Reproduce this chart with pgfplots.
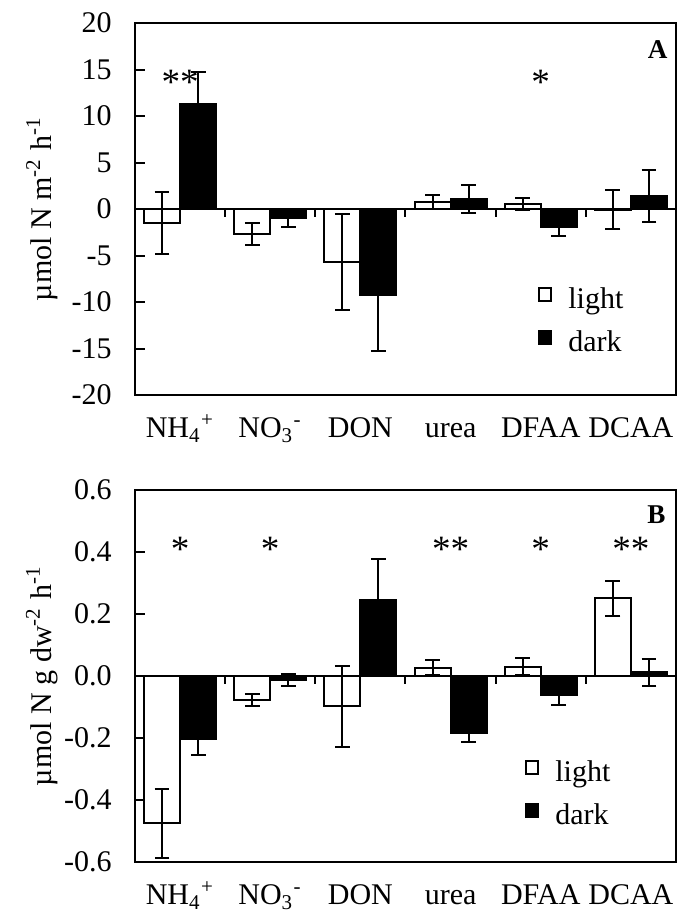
\documentclass[border=0pt]{standalone}
\usepackage{fontspec}
\setmainfont{Liberation Serif}
\usepackage{pgfplots}
\pgfplotsset{compat=1.18}
\tikzset{
  sigstar/.style={anchor=base, yshift=-6.5pt, font=\fontsize{13}{15}\selectfont},
  panellab/.style={anchor=north east, inner sep=0pt, font=\fontsize{9.5}{11}\selectfont\bfseries},
}
\pgfplotsset{
  lightleg/.style={legend image code/.code={\draw[black,fill=white,line width=0.7pt] (0pt,0pt) rectangle (4.5pt,4.5pt);}},
  darkleg/.style={legend image code/.code={\draw[black,fill=black,line width=0.7pt] (0pt,0pt) rectangle (4.5pt,4.5pt);}},
  common/.style={
    scale only axis, width=189.35pt, height=130.2pt,
    xmin=-0.5, xmax=5.5, xtick={0,1,2,3,4,5},
    xticklabels={NH\textsubscript{4}\textsuperscript{+}, NO\textsubscript{3}\textsuperscript{-}, DON, urea, DFAA, DCAA},
    major x tick style={draw=none},
    xticklabel style={anchor=base, yshift=-15pt},
    ytick pos=left,
    major tick length=3.5pt,
    yticklabel style={xshift=-4.5pt},
    axis line style={line width=0.9pt},
    tick style={line width=0.7pt, black},
    legend style={draw=none, fill=none, inner sep=0pt, nodes={inner sep=0pt}, row sep=5.7pt, column sep=5.6pt, legend cell align=left},
    ylabel style={at={(axis description cs:-0.172,0.5)}, anchor=center},
  },
  barbase/.style={ybar, bar width=0.4, bar shift=0, draw=black, line width=0.7pt,
    error bars/y dir=both, error bars/y explicit,
    error bars/error mark=-,
    error bars/error bar style={line width=0.7pt, black},
    error bars/error mark options={rotate=90, mark size=2.6pt, line width=0.7pt, black}},
  lightbar/.style={barbase, fill=white, lightleg},
  darkbar/.style={barbase, fill=black, darkleg},
}
\begin{document}
\fontsize{10.5}{12.6}\selectfont
\begin{tikzpicture}
\path[use as bounding box] (-47.25pt,-180.95pt) rectangle (194.6pt,138.25pt);
% Panel A
\begin{axis}[common, at={(0pt,0pt)}, anchor=south west,
  ymin=-20, ymax=20,
  ytick={-20,-15,-10,-5,0,5,10,15,20},
  yticklabels={-20,-15,-10,-5,0,5,10,15,20},
  ylabel={µmol N m\textsuperscript{-2} h\textsuperscript{-1}},
  legend style={at={(rel axis cs:0.743,0.292)}, anchor=north west},
]
\addplot[black, line width=0.7pt, forget plot] coordinates {(-0.5,0) (5.5,0)};
\addplot[ycomb, black, line width=0.7pt, forget plot, mark=none] coordinates {(0.5,-0.86) (1.5,-0.86) (2.5,-0.86) (3.5,-0.86) (4.5,-0.86)};
% light bars at category - 0.2, dark at category + 0.2
\addplot[lightbar] coordinates {(-0.2,-1.5) +- (0,3.3) (0.8,-2.7) +- (0,1.2) (1.8,-5.7) +- (0,5.2) (2.8,0.8) +- (0,0.75) (3.8,0.5) +- (0,0.65) (4.8,-0.1) +- (0,2.1)};
\addlegendentry{light}
\addplot[darkbar] coordinates {(0.2,11.3) +- (0,3.4) (1.2,-1.0) +- (0,0.9) (2.2,-9.2) +- (0,6.1) (3.2,1.1) +- (0,1.5) (4.2,-1.9) +- (0,0.95) (5.2,1.4) +- (0,2.8)};
\addlegendentry{dark}
\node[sigstar] at (axis cs:0,14.3) {**};
\node[sigstar] at (axis cs:4,14.3) {*};
\node[panellab, xshift=-2.8pt, yshift=-5.8pt] at (rel axis cs:1,1) {A};
\end{axis}
% Panel B
\begin{axis}[common, at={(0pt,-163.45pt)}, anchor=south west,
  ymin=-0.6, ymax=0.6,
  ytick={-0.6,-0.4,-0.2,0,0.2,0.4,0.6},
  yticklabels={-0.6,-0.4,-0.2,0.0,0.2,0.4,0.6},
  ylabel={µmol N g dw\textsuperscript{-2} h\textsuperscript{-1}},
  legend style={at={(rel axis cs:0.719,0.276)}, anchor=north west},
]
\addplot[black, line width=0.7pt, forget plot] coordinates {(-0.5,0) (5.5,0)};
\addplot[ycomb, black, line width=0.7pt, forget plot, mark=none] coordinates {(0.5,-0.026) (1.5,-0.026) (2.5,-0.026) (3.5,-0.026) (4.5,-0.026)};
\addplot[lightbar] coordinates {(-0.2,-0.475) +- (0,0.112) (0.8,-0.078) +- (0,0.02) (1.8,-0.098) +- (0,0.13) (2.8,0.027) +- (0,0.025) (3.8,0.03) +- (0,0.027) (4.8,0.25) +- (0,0.056)};
\addlegendentry{light}
\addplot[darkbar] coordinates {(0.2,-0.204) +- (0,0.052) (1.2,-0.012) +- (0,0.02) (2.2,0.245) +- (0,0.132) (3.2,-0.185) +- (0,0.027) (4.2,-0.062) +- (0,0.03) (5.2,0.012) +- (0,0.044)};
\addlegendentry{dark}
\node[sigstar] at (axis cs:0,0.43) {*};
\node[sigstar] at (axis cs:1,0.43) {*};
\node[sigstar] at (axis cs:3,0.43) {**};
\node[sigstar] at (axis cs:4,0.43) {*};
\node[sigstar] at (axis cs:5,0.43) {**};
\node[panellab, xshift=-3.5pt, yshift=-5.2pt] at (rel axis cs:1,1) {B};
\end{axis}
\end{tikzpicture}
\end{document}
